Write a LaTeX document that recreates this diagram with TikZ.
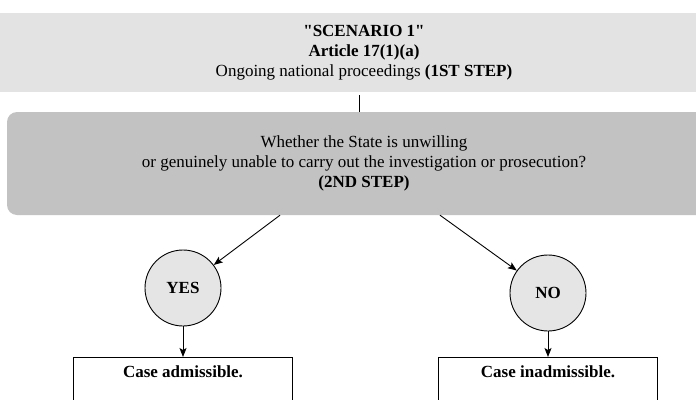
\documentclass[tikz,border=0pt]{standalone}
\usepackage{fontspec}
\setmainfont{Liberation Serif}[Ligatures=TeXOff]
\usetikzlibrary{arrows.meta,positioning,calc}
\definecolor{BandGray}{gray}{0.89}
\definecolor{BoxGray}{gray}{0.76}
\definecolor{CircGray}{gray}{0.9}
\newcommand{\txtsize}{\fontsize{17}{20}\selectfont}
\tikzset{
  >={Stealth[length=9pt,width=7pt,inset=2pt]},
  band/.style={fill=BandGray,align=center,inner sep=0pt},
  question/.style={fill=BoxGray,rounded corners=10pt,align=center,inner sep=0pt},
  answer/.style={draw,circle,fill=CircGray,line width=0.9pt,minimum size=76pt,inner sep=0pt,font=\txtsize\bfseries},
  outcome/.style={draw,line width=0.9pt,align=center,minimum width=219pt,font=\txtsize\bfseries,text height=17pt,text depth=30pt},
  arrow/.style={->,line width=0.9pt},
}

\begin{document}
\begin{tikzpicture}[x=1pt,y=-1pt,font=\txtsize]
  \useasboundingbox (0,0) rectangle (696,399);
  % 1st step
  \node[band,minimum width=740pt,minimum height=79pt] (scen) at (364,52.5)
    {\textbf{"SCENARIO 1"}\\ \textbf{Article 17(1)(a)}\\ Ongoing national proceedings \textbf{(1ST STEP)}};
  % 2nd step
  \node[question,minimum width=714pt,minimum height=103pt] (q) at (364,163.5)
    {Whether the State is unwilling\\ or genuinely unable to carry out the investigation or prosecution?\\ \textbf{(2ND STEP)}};
  \draw[line width=0.9pt] ([xshift=-5pt,yshift=-3pt]scen.south) -- ([xshift=-5pt]q.north);
  % answers
  \node[answer] (yes) at (183,288) {YES};
  \node[answer] (no) at (548,293) {NO};
  \draw[arrow] ([xshift=-84pt]q.south) -- (yes);
  \draw[arrow] ([xshift=76pt]q.south) -- (no);
  % outcomes
  \node[outcome,anchor=north] (adm) at (183,357) {Case admissible.};
  \node[outcome,anchor=north] (inadm) at (548,357) {Case inadmissible.};
  \draw[arrow] (yes) -- (adm);
  \draw[arrow] (no) -- (inadm);
\end{tikzpicture}
\end{document}
